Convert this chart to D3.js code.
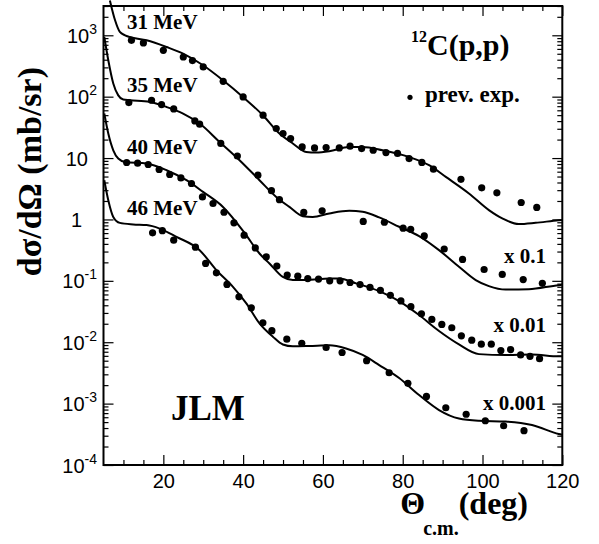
<!DOCTYPE html>
<html><head><meta charset="utf-8">
<script src="https://cdn.jsdelivr.net/npm/d3@7"></script>
<style>body{margin:0;background:#fff}svg{display:block}</style>
</head><body><svg id="c" width="599" height="544"></svg>
<script>
// ---------- data ----------
const energies = ["31 MeV", "35 MeV", "40 MeV", "46 MeV"];
const scaleLabels = ["x 0.1", "x 0.01", "x 0.001"];
const xMajorTicks = [20, 40, 60, 80, 100, 120];
const yTickExps = [-4, -3, -2, -1, 0, 1, 2, 3];

// previous experiments (displayed values, already scaled)
const expTheta31 = [12,15,20,25,27.3,30,35,40,45,48.3,50,51.9,54.8,57.9,60.8,64.1,66.8,69.7,72.6,75.8,78.7,81.6,84.8,87.7,94.6,99.8,103.6,109.7,113.6];
const expXs31 = [828,750,570,443,387,305,178,99,49.9,30.3,25.1,20.8,15.2,14.6,14.8,14.6,15.6,14.3,13.4,12.3,11.9,9.8,8.5,6.6,4.5,3.27,2.71,1.89,1.57];
const expTheta35 = [11.35,17.05,19.55,22.6,27.9,29.1,34.4,38.55,43.7,47.1,49.1,55.2,59.8,70.1,75.4,80.1,82,85.4,90.4,95,100.4,104.95,110.2,115];
const expXs35 = [80.2,87.5,74.4,63.1,40.3,35.6,17.3,10.8,5.26,2.94,2.10,1.30,1.38,0.93,0.90,0.72,0.69,0.54,0.33,0.223,0.153,0.127,0.105,0.091];
const expTheta40 = [10.8,13.55,16.2,18.95,21.6,24.4,27.05,29.8,32.45,35.2,37.7,40.25,43.05,45.8,48.45,51.05,53.7,56.2,58.9,61.7,64.3,66.8,69.3,71.8,74.4,76.9,79.55,82.05,84.7,87.3,89.8,92.3,94.7,97.3,99.7,102.2,104.6,107.05,109.55,111.9,114.3];
const expXs40 = [8.47,8.25,7.85,6.51,5.40,4.75,3.85,2.33,1.82,1.31,0.88,0.555,0.344,0.246,0.174,0.124,0.119,0.109,0.107,0.100,0.100,0.094,0.087,0.078,0.070,0.058,0.047,0.038,0.029,0.0235,0.0195,0.0172,0.0127,0.0108,0.0093,0.0093,0.0073,0.0076,0.0062,0.0059,0.0054];
const expTheta46 = [17.3,19.75,22.6,28.05,30.6,33.3,35.95,38.95,42.05,44.95,47.2,50.95,54.7,60.8,64.8,70.95,76.6,81.3,85.95,90.8,95.9,100.7,105.3,110.4];
const expXs46 = [0.605,0.657,0.460,0.354,0.192,0.135,0.0874,0.0549,0.0364,0.0207,0.0154,0.0112,0.0096,0.0082,0.0068,0.0050,0.00318,0.00214,0.00131,0.000857,0.000671,0.000526,0.000436,0.000362];

// JLM calculations (displayed values)
const jlmTheta31 = [6.6,7.9,9.1,10.4,11.6,15.8,20.8,24.95,29.95,34.95,39.95,44.95,49.1,52.45,55.8,58.3,61.6,66.6,69.95,74.95,81.6,86.6,90.8,96.6,101.6,104.95,109.1,113.3,119.1,120];
const jlmXs31 = [3700,1754,1132,1000,938,828,645,503,325,185,99,49.9,25.1,17.3,12.6,12.3,12.9,15.2,15.2,13.4,10.4,7.65,4.93,2.65,1.42,1.04,0.84,0.88,0.97,0.98];
const jlmTheta35 = [5.2,6.2,7.45,8.7,9.95,11.6,16.6,20.8,24.95,29.1,34.1,39.1,44.1,48.3,51.6,54.95,57.45,61.6,66.6,69.95,74.1,79.1,84.1,89.1,94.1,98.3,101.6,105.8,111.6,119.1,120];
const jlmXs35 = [938,392,164,105,89.8,87.5,82.0,68.0,53.1,36.5,18.3,9.23,4.36,2.33,1.60,1.13,1.10,1.25,1.38,1.33,1.08,0.76,0.535,0.316,0.170,0.103,0.082,0.072,0.073,0.085,0.086];
const jlmTheta40 = [5.2,6.2,7.45,8.7,10.4,15.8,20.8,25.8,29.95,34.95,40.4,44.1,46.6,49.95,52.45,55.8,61.6,64.1,68.3,74.1,79.1,84.1,89.1,94.1,99.1,105.8,112.4,119.1,120];
const jlmXs40 = [53.1,25.1,13.4,9.84,8.66,8.15,6.34,4.36,2.81,1.60,0.60,0.279,0.192,0.116,0.103,0.103,0.109,0.109,0.091,0.068,0.0468,0.0277,0.0152,0.0092,0.0064,0.0062,0.0063,0.0059,0.0059];
const jlmTheta46 = [5.2,6.2,7.45,9.1,12.45,15.8,19.1,23.3,29.1,33.3,37.45,40.8,44.1,47.45,49.95,52.45,56.6,61.6,65.8,69.95,74.1,79.1,84.1,89.1,94.1,99.1,105.8,112.4,119.1,120];
const jlmXs46 = [4.36,2.06,1.10,0.88,0.83,0.81,0.71,0.52,0.316,0.149,0.080,0.0429,0.0203,0.0123,0.0092,0.0086,0.0087,0.0089,0.0079,0.0062,0.00425,0.00261,0.00138,0.000786,0.000571,0.000526,0.000511,0.000448,0.000320,0.00031];

// ---------- drawing ----------
const svg = d3.select("#c");
const L = 103.5, R = 562.3, T = 6, B = 465;
const x = d3.scaleLinear().domain([5, 120]).range([L, R]);
const y = d3.scaleLog().domain([1e-4, 3000]).range([B, T]);

const serif = "'Liberation Serif','Times New Roman',serif";
const sans = "'Liberation Sans',Arial,Helvetica,sans-serif";

const xMinor = d3.range(10, 120, 5).filter(v => !xMajorTicks.includes(v));
const yMajor = yTickExps.map(e => Math.pow(10, e));
const yMinor = [];
yTickExps.forEach(e => { for (let k = 2; k <= 9; k++) { const v = k * Math.pow(10, e); if (v <= 3000) yMinor.push(v); } });

function styleAxis(g) {
  g.select(".domain").remove();
  g.selectAll(".tick line").attr("stroke", "#000").attr("stroke-width", 1.2);
}
function addAxis(axisFn, scale, vals, size, transform, withText) {
  const a = axisFn(scale).tickValues(vals).tickSize(-size).tickSizeOuter(0);
  if (!withText) a.tickFormat("");
  const g = svg.append("g").attr("transform", transform).call(a);
  styleAxis(g);
  return g;
}
const gxb = addAxis(d3.axisBottom, x, xMajorTicks, 10, `translate(0,${B})`, true);
gxb.selectAll(".tick text").attr("font-family", sans).attr("font-size", 20).attr("fill", "#000").attr("y", 9);
addAxis(d3.axisBottom, x, xMinor, 5, `translate(0,${B})`, false);
addAxis(d3.axisTop, x, xMajorTicks, 10, `translate(0,${T})`, false);
addAxis(d3.axisTop, x, xMinor, 5, `translate(0,${T})`, false);
const gyl = addAxis(d3.axisLeft, y, yMajor, 10, `translate(${L},0)`, false);
addAxis(d3.axisLeft, y, yMinor, 5, `translate(${L},0)`, false);
addAxis(d3.axisRight, y, yMajor, 10, `translate(${R},0)`, false);
addAxis(d3.axisRight, y, yMinor, 5, `translate(${R},0)`, false);

gyl.selectAll(".tick").each(function(d) {
  const e = Math.round(Math.log10(d));
  const t = d3.select(this).append("text")
    .attr("font-family", sans).attr("font-size", 20).attr("fill", "#000")
    .attr("text-anchor", "end").attr("y", 7)
    .attr("x", (e === 0 ? 82 : e === 1 ? 88 : 97) - L);
  if (e === 0) t.text("1");
  else if (e === 1) t.text("10");
  else {
    t.append("tspan").text("10");
    t.append("tspan").attr("font-size", 14).attr("dy", -9).text(String(e));
  }
});

svg.append("rect").attr("x", L).attr("y", T).attr("width", R - L).attr("height", B - T)
  .attr("fill", "none").attr("stroke", "#000").attr("stroke-width", 2);

const line = d3.line().x(d => x(d[0])).y(d => y(d[1])).curve(d3.curveMonotoneX);
const curves = [[jlmTheta31, jlmXs31], [jlmTheta35, jlmXs35], [jlmTheta40, jlmXs40], [jlmTheta46, jlmXs46]];
curves.forEach(([th, xs]) => {
  svg.append("path").datum(d3.zip(th, xs)).attr("d", line)
    .attr("fill", "none").attr("stroke", "#000").attr("stroke-width", 2);
});

const exps = [[expTheta31, expXs31], [expTheta35, expXs35], [expTheta40, expXs40], [expTheta46, expXs46]];
exps.forEach(([th, xs]) => {
  svg.append("g").selectAll("circle").data(d3.zip(th, xs)).join("circle")
    .attr("cx", d => x(d[0])).attr("cy", d => y(d[1])).attr("r", 3.6).attr("fill", "#000");
});

const eY = [28.5, 91.5, 153.5, 215];
energies.forEach((s, i) => {
  svg.append("text").attr("x", 127).attr("y", eY[i]).text(s)
    .attr("font-family", serif).attr("font-weight", "bold").attr("font-size", 21).attr("fill", "#000");
});
const sY = [263, 331.5, 410];
scaleLabels.forEach((s, i) => {
  svg.append("text").attr("x", 546).attr("y", sY[i]).attr("text-anchor", "end").text(s)
    .attr("font-family", serif).attr("font-weight", "bold").attr("font-size", 21).attr("fill", "#000");
});

const rt = svg.append("text").attr("x", 411).attr("y", 55)
  .attr("font-family", serif).attr("font-weight", "bold").attr("fill", "#000");
rt.append("tspan").attr("font-size", 16).attr("dy", -13).text("12");
rt.append("tspan").attr("font-size", 30).attr("dy", 13).text("C(p,p)");

svg.append("circle").attr("cx", 410).attr("cy", 97.3).attr("r", 2.6).attr("fill", "#000");
svg.append("text").attr("x", 425).attr("y", 102).text("prev. exp.")
  .attr("font-family", serif).attr("font-weight", "bold").attr("font-size", 23).attr("fill", "#000");

svg.append("text").attr("x", 171).attr("y", 420).text("JLM")
  .attr("font-family", serif).attr("font-weight", "bold").attr("font-size", 35).attr("fill", "#000");

const xt = svg.append("text").attr("x", 528).attr("y", 514).attr("text-anchor", "end")
  .attr("font-family", serif).attr("font-weight", "bold").attr("fill", "#000");
xt.append("tspan").attr("font-size", 32).text("Θ");
xt.append("tspan").attr("font-size", 20).attr("dx", -2).attr("dy", 21).text("c.m.");
xt.append("tspan").attr("font-size", 32).attr("dy", -21).text("(deg)");

svg.append("text").attr("transform", "translate(41,67) rotate(-90)").attr("text-anchor", "end")
  .attr("font-family", serif).attr("font-weight", "bold").attr("font-size", 34).attr("fill", "#000")
  .text("dσ/dΩ (mb/sr)");
</script></body></html>
